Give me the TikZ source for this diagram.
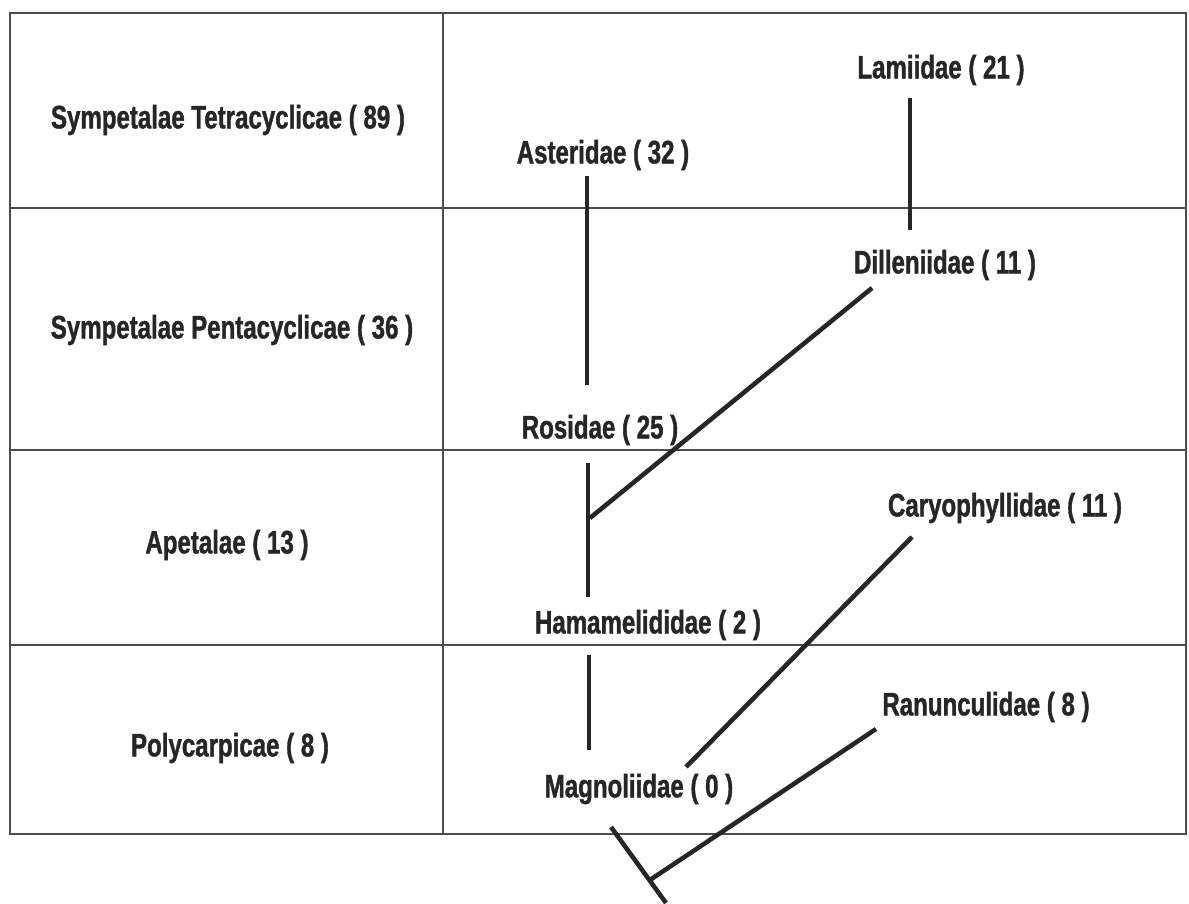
\documentclass[tikz,border=0pt]{standalone}
\usepackage{fontspec}
\newfontfamily\taxfont[FakeStretch=0.74, FakeBold=1.2]{Liberation Sans}

\tikzset{
	taxon/.style = {font = \taxfont\bfseries\fontsize{18.5}{22}\selectfont, text = black!85, inner sep = 0pt},
	branch/.style = {line width = 2.6pt, black!85},
	frame/.style = {line width = 1pt, black!70}
}

\begin{document}
\begin{tikzpicture}
	\useasboundingbox (0, 0) rectangle (23.78, 18.08);
	
	% table
	\draw[frame] (0.2, 1.4) rectangle (23.72, 17.82);
	\draw[frame] (8.86, 1.4) -- (8.86, 17.82);
	\draw[frame] (0.2, 13.92) -- (23.72, 13.92);
	\draw[frame] (0.2, 9.08) -- (23.72, 9.08);
	\draw[frame] (0.2, 5.18) -- (23.72, 5.18);
	
	% left column
	\node[taxon] (tetra) at (4.56, 15.68) {Sympetalae Tetracyclicae ( 89 )};
	\node[taxon] (penta) at (4.64, 11.48) {Sympetalae Pentacyclicae ( 36 )};
	\node[taxon] (apet) at (4.54, 7.18) {Apetalae ( 13 )};
	\node[taxon] (poly) at (4.60, 3.12) {Polycarpicae ( 8 )};
	
	% subclasses
	\node[taxon] (lam) at (18.82, 16.68) {Lamiidae ( 21 )};
	\node[taxon] (ast) at (12.06, 14.98) {Asteridae ( 32 )};
	\node[taxon] (dil) at (18.90, 12.78) {Dilleniidae ( 11 )};
	\node[taxon] (ros) at (12.00, 9.48) {Rosidae ( 25 )};
	\node[taxon] (car) at (20.10, 7.92) {Caryophyllidae ( 11 )};
	\node[taxon] (ham) at (12.96, 5.58) {Hamamelididae ( 2 )};
	\node[taxon] (ran) at (19.72, 3.94) {Ranunculidae ( 8 )};
	\node[taxon] (mag) at (12.78, 2.30) {Magnoliidae ( 0 )};
	
	% branch ends
	\coordinate (lam-s) at (18.20, 16.12);
	\coordinate (dil-n) at (18.20, 13.48);
	\coordinate (ast-s) at (11.74, 14.56);
	\coordinate (ros-n) at (11.74, 10.38);
	\coordinate (ros-s) at (11.76, 8.82);
	\coordinate (ham-n) at (11.76, 6.14);
	\coordinate (fork) at (11.80, 7.72);
	\coordinate (dil-s) at (17.44, 12.32);
	\coordinate (ham-s) at (11.78, 4.98);
	\coordinate (mag-n) at (11.78, 3.08);
	\coordinate (car-s) at (18.24, 7.34);
	\coordinate (mag-e) at (13.72, 2.74);
	\coordinate (ran-s) at (17.52, 3.50);
	\coordinate (root) at (13.00, 0.48);
	\coordinate (bar-a) at (12.22, 1.54);
	\coordinate (bar-b) at (13.32, 0.02);
	
	\draw[branch] (lam-s) -- (dil-n);
	\draw[branch] (ast-s) -- (ros-n);
	\draw[branch] (ros-s) -- (ham-n);
	\draw[branch] (fork) -- (dil-s);
	\draw[branch] (ham-s) -- (mag-n);
	\draw[branch] (car-s) -- (mag-e);
	\draw[branch] (ran-s) -- (root);
	\draw[branch] (bar-a) -- (bar-b);
\end{tikzpicture}
\end{document}
